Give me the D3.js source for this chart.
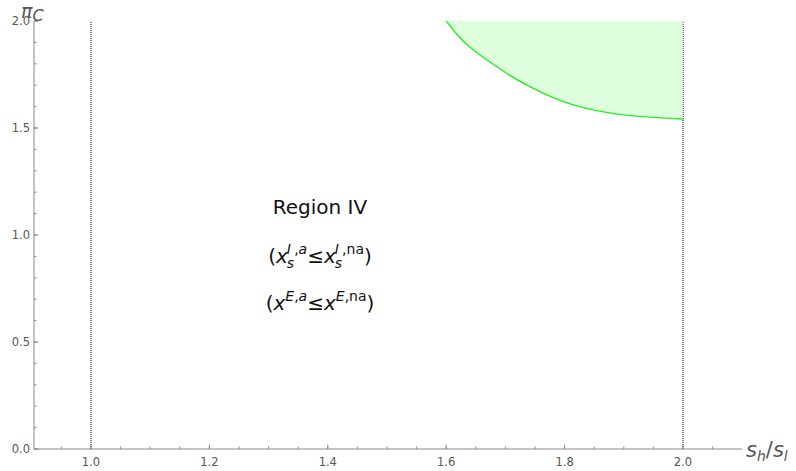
<!DOCTYPE html>
<html>
<head>
<meta charset="utf-8">
<script src="https://d3js.org/d3.v7.min.js"></script>
<style>
  body { margin: 0; background: #fff; }
  svg { display: block; font-family: "DejaVu Sans", sans-serif; }
</style>
</head>
<body>
<div id="chart"></div>
<script>
// Boundary curve (green)
const curveX = [1.6, 1.618, 1.646, 1.702, 1.742, 1.798, 1.854, 1.91, 2.0];
const curveY = [2.0, 1.938, 1.864, 1.756, 1.692, 1.623, 1.581, 1.558, 1.542];

const xMajor = [1.0, 1.2, 1.4, 1.6, 1.8, 2.0];
const yMajor = [0.0, 0.5, 1.0, 1.5, 2.0];
const vLines = [1.0, 2.0];

const width = 796, height = 471;

const svg = d3.select('#chart')
    .append('svg')
    .attr('width', width)
    .attr('height', height);

const x = d3.scaleLinear().domain([1, 2]).range([91, 683]);
const y = d3.scaleLinear().domain([0, 2]).range([449, 21]);

const xMin = x.invert(34), xMax = x.invert(742);

// vertical dotted lines
svg.append('g')
    .selectAll('line')
    .data(vLines)
    .join('line')
    .attr('x1', d => x(d)).attr('x2', d => x(d))
    .attr('y1', y(0)).attr('y2', y(2))
    .attr('stroke', '#000')
    .attr('stroke-width', 1)
    .attr('stroke-dasharray', '1,1');

// shaded region above the curve
const pts = curveX.map((v, i) => [v, curveY[i]]);
const smooth = d3.curveNatural;

svg.append('path')
    .datum(pts)
    .attr('d', d3.area().x(d => x(d[0])).y0(y(2)).y1(d => y(d[1])).curve(smooth))
    .attr('fill', '#ccffcc')
    .attr('fill-opacity', 0.65);

svg.append('path')
    .datum(pts)
    .attr('d', d3.line().x(d => x(d[0])).y(d => y(d[1])).curve(smooth))
    .attr('fill', 'none')
    .attr('stroke', '#22ee22')
    .attr('stroke-width', 1.3);

// axes
const axisColor = '#888';
const g = svg.append('g');
g.append('line')
    .attr('x1', 34).attr('x2', 742)
    .attr('y1', y(0)).attr('y2', y(0))
    .attr('stroke', axisColor);
g.append('line')
    .attr('x1', 34).attr('x2', 34)
    .attr('y1', y(0)).attr('y2', y(2))
    .attr('stroke', axisColor);

// x ticks
const xMinor = d3.range(Math.ceil(xMin / 0.05) * 0.05, xMax, 0.05);
g.selectAll('.xminor')
    .data(xMinor)
    .join('line')
    .attr('x1', d => x(d)).attr('x2', d => x(d))
    .attr('y1', y(0)).attr('y2', y(0) - 2.5)
    .attr('stroke', axisColor);
g.selectAll('.xmajor')
    .data(xMajor)
    .join('line')
    .attr('x1', d => x(d)).attr('x2', d => x(d))
    .attr('y1', y(0)).attr('y2', y(0) - 4.5)
    .attr('stroke', axisColor);
g.selectAll('.xlab')
    .data(xMajor)
    .join('text')
    .attr('x', d => x(d))
    .attr('y', y(0) + 17)
    .attr('text-anchor', 'middle')
    .attr('font-size', 11.5)
    .attr('fill', '#555')
    .text(d => d.toFixed(1));

// y ticks
const yMinor = d3.range(0, 2.0001, 0.1);
g.selectAll('.yminor')
    .data(yMinor)
    .join('line')
    .attr('x1', 34).attr('x2', 36.5)
    .attr('y1', d => y(d)).attr('y2', d => y(d))
    .attr('stroke', axisColor);
g.selectAll('.ymajor')
    .data(yMajor)
    .join('line')
    .attr('x1', 34).attr('x2', 38.5)
    .attr('y1', d => y(d)).attr('y2', d => y(d))
    .attr('stroke', axisColor);
g.selectAll('.ylab')
    .data(yMajor)
    .join('text')
    .attr('x', 30)
    .attr('y', d => y(d) + 4)
    .attr('text-anchor', 'end')
    .attr('font-size', 11.5)
    .attr('fill', '#555')
    .text(d => d.toFixed(1));

// axis labels
const yl = svg.append('text')
    .attr('x', 21).attr('y', 18)
    .attr('font-size', 19)
    .attr('font-style', 'italic')
    .attr('fill', '#555');
yl.append('tspan').text('π');
yl.append('tspan').attr('font-size', 16).attr('dy', 3).text('C');

const xl = svg.append('text')
    .attr('x', 746).attr('y', 457)
    .attr('font-size', 21)
    .attr('font-style', 'italic')
    .attr('fill', '#555');
xl.append('tspan').text('s');
xl.append('tspan').attr('font-size', 14).attr('dy', 4).text('h');
xl.append('tspan').attr('font-size', 21).attr('dy', -4).attr('font-style', 'normal').text('/');
xl.append('tspan').text('s');
xl.append('tspan').attr('font-size', 14).attr('dy', 4).text('l');

// annotation
const cx = 320;
svg.append('text')
    .attr('x', cx).attr('y', 214)
    .attr('text-anchor', 'middle')
    .attr('font-size', 20)
    .attr('fill', '#111')
    .text('Region IV');

// lay out a formula piece by piece, then centre it on cx
function formula(base, pieces) {
    const grp = svg.append('g');
    let cur = 0, stackStart = 0, stackEnd = 0;
    pieces.forEach(p => {
        const startX = p.stack ? stackStart : cur;
        const t = grp.append('text')
            .attr('x', startX)
            .attr('y', base + (p.dy || 0))
            .attr('font-size', p.size || 20)
            .attr('font-style', p.it ? 'italic' : 'normal')
            .attr('fill', '#111')
            .text(p.t);
        const w = t.node().getComputedTextLength();
        if (p.sub) { stackStart = cur; stackEnd = cur + w; cur = cur + w; }
        else if (p.stack) { cur = Math.max(stackEnd, startX + w); }
        else { cur = startX + w; }
        if (p.after) cur += p.after;
    });
    grp.attr('transform', `translate(${cx - cur / 2},0)`);
}

const S = 14, UP = -9, DN = 5;
formula(263, [
    { t: '(' },
    { t: 'x', it: true, after: -1 },
    { t: 's', it: true, size: S, dy: DN, sub: true },
    { t: 'I', it: true, size: S, dy: UP, stack: true },
    { t: ',', size: S, dy: UP },
    { t: 'a', it: true, size: S, dy: UP },
    { t: '≤' },
    { t: 'x', it: true, after: -1 },
    { t: 's', it: true, size: S, dy: DN, sub: true },
    { t: 'I', it: true, size: S, dy: UP, stack: true },
    { t: ',', size: S, dy: UP },
    { t: 'na', size: S, dy: UP },
    { t: ')' }
]);

formula(310, [
    { t: '(' },
    { t: 'x', it: true },
    { t: 'E', it: true, size: S, dy: UP },
    { t: ',', size: S, dy: UP },
    { t: 'a', it: true, size: S, dy: UP },
    { t: '≤' },
    { t: 'x', it: true },
    { t: 'E', it: true, size: S, dy: UP },
    { t: ',', size: S, dy: UP },
    { t: 'na', size: S, dy: UP },
    { t: ')' }
]);
</script>
</body>
</html>
